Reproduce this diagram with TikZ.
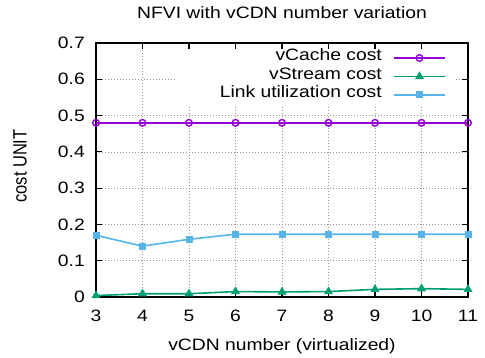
\documentclass[tikz,border=0pt]{standalone}
\usepackage{fontspec}
\setmainfont{Liberation Sans}[FakeStretch=1.17]
\newfontfamily\plainsans{Liberation Sans}
\usetikzlibrary{plotmarks}

\definecolor{cachecol}{HTML}{9400D3}
\definecolor{streamcol}{HTML}{009E73}
\definecolor{linkcol}{HTML}{56B4E9}

\tikzset{
  every node/.style={inner sep=0pt, font=\fontsize{16.5}{18}\selectfont},
  gridline/.style={draw=black!40, line width=0.5pt, dash pattern=on 1pt off 2pt},
  frameline/.style={draw=black, line width=1.5pt},
  tickline/.style={draw=black, line width=1.2pt},
  cacheline/.style={draw=cachecol, line width=1.6pt, mark=o, mark size=3.3pt,
    mark options={line width=1.4pt, solid}},
  streamline/.style={draw=streamcol, line width=1.6pt, mark=triangle*, mark size=4.2pt,
    mark options={fill=streamcol, line width=1pt}},
  linkline/.style={draw=linkcol, line width=1.6pt, mark=square*, mark size=3pt,
    mark options={fill=linkcol, line width=1pt}},
  ticklabel/.style={anchor=base},
  ylabel/.style={anchor=east},
}

\begin{document}
\begin{tikzpicture}[x=1pt, y=-1pt]
\useasboundingbox (0,0) rectangle (485,358);
\fill[white] (0,0) rectangle (485,358);

% grid in data coordinates (x = vCDN number - 3, y = cost)
\begin{scope}[shift={(96,297)}, x=46.5pt, y=362.857pt]
  \foreach \i in {1,...,7} \draw[gridline] (\i,0) -- (\i,0.7);
  \foreach \c in {0.1,0.2,0.3,0.4,0.5,0.6} \draw[gridline] (0,\c) -- (8,\c);
\end{scope}

% opaque key background
\fill[white] (175,44) rectangle (456,105);

% frame and ticks
\draw[frameline] (96,43) rectangle (468,297);
\foreach \i in {1,...,7} {
  \draw[tickline] (96+\i*46.5,297) -- (96+\i*46.5,291);
  \draw[tickline] (96+\i*46.5,43) -- (96+\i*46.5,49);
}
\foreach \i in {1,...,6} {
  \draw[tickline] (96,297-\i*36.2857) -- (102,297-\i*36.2857);
  \draw[tickline] (468,297-\i*36.2857) -- (462,297-\i*36.2857);
}

% data series
\begin{scope}[shift={(96,297)}, x=46.5pt, y=362.857pt]
  \draw[linkline] plot coordinates {(0,0.170) (1,0.140) (2,0.159) (3,0.173) (4,0.173)
    (5,0.173) (6,0.173) (7,0.173) (8,0.173)};
  \draw[streamline] plot coordinates {(0,0.004) (1,0.009) (2,0.009) (3,0.015) (4,0.014)
    (5,0.015) (6,0.021) (7,0.023) (8,0.021)};
  \draw[cacheline] plot coordinates {(0,0.48) (1,0.48) (2,0.48) (3,0.48) (4,0.48)
    (5,0.48) (6,0.48) (7,0.48) (8,0.48)};
\end{scope}

% x tick labels
\foreach \v [count=\i from 0] in {3,...,11}
  \node[ticklabel] (xt\v) at (96+\i*46.5,321.5) {\v};
% y tick labels
\foreach \c [count=\i from 0] in {0,0.1,0.2,0.3,0.4,0.5,0.6,0.7}
  \node[ylabel] (yt\i) at (85,297-\i*36.2857) {\c};

% titles
\node[anchor=base] (title) at (282,19) {NFVI with vCDN number variation};
\node[anchor=base] (xlabel) at (282,351) {vCDN number (virtualized)};
\node[rotate=90] (ylab) at (20,166) {\plainsans\scalebox{1}[1.17]{cost UNIT}};

% key
\coordinate (ka1) at (394,58);   \coordinate (ka2) at (445,58);
\coordinate (kb1) at (394,76.5); \coordinate (kb2) at (445,76.5);
\coordinate (kc1) at (394,95);   \coordinate (kc2) at (445,95);
\node[anchor=mid east] (kta) at (382,58) {vCache cost};
\node[anchor=mid east] (ktb) at (382,76.5) {vStream cost};
\node[anchor=mid east] (ktc) at (382,95) {Link utilization cost};
\draw[cachecol, line width=1.6pt] (ka1) -- (ka2);
\draw[streamcol, line width=1.6pt] (kb1) -- (kb2);
\draw[linkcol, line width=1.6pt] (kc1) -- (kc2);
\path[cacheline] plot coordinates {(419.5,58)};
\path[streamline] plot coordinates {(419.5,76.5)};
\path[linkline] plot coordinates {(419.5,95)};
\end{tikzpicture}
\end{document}
